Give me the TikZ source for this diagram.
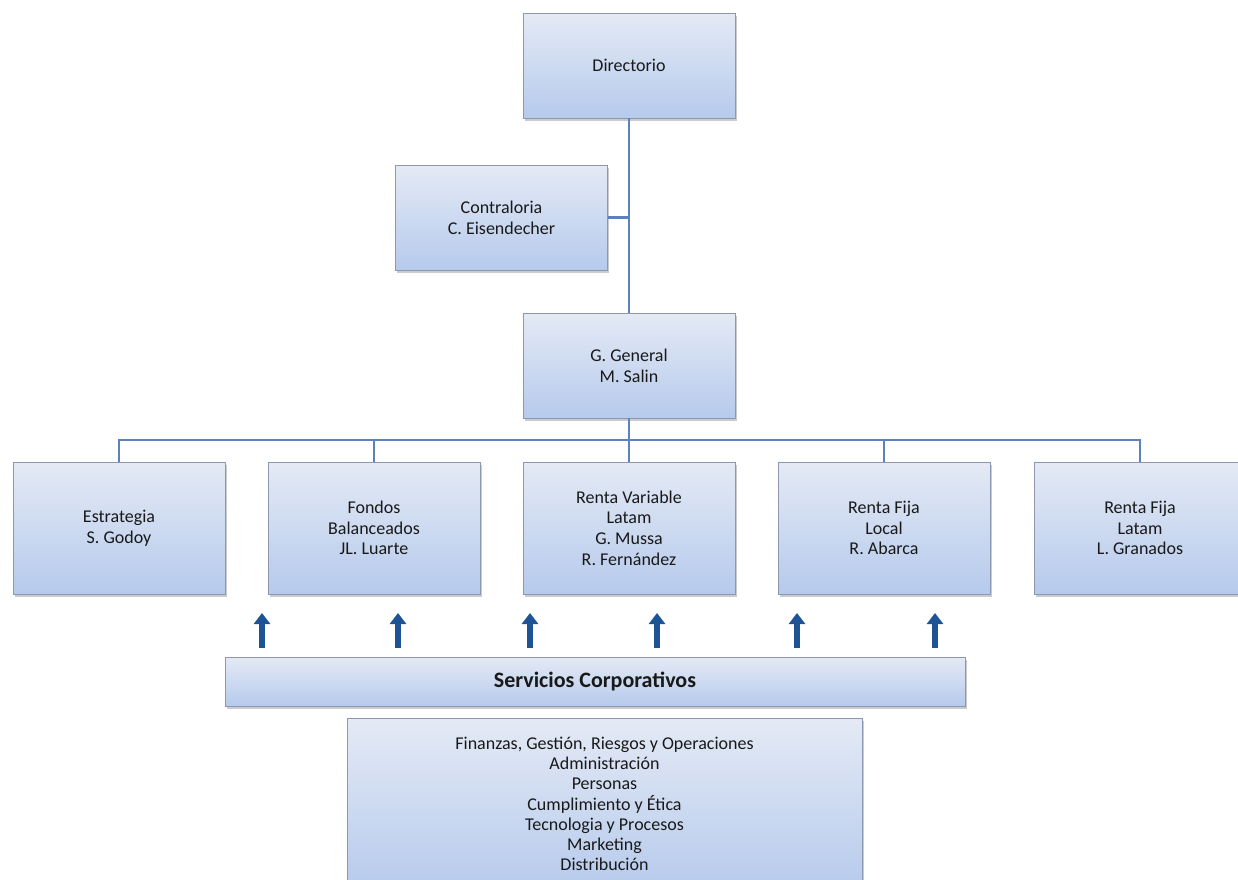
\documentclass[tikz,border=0pt]{standalone}
\usepackage{fontspec}
\setmainfont{Carlito}
\usetikzlibrary{arrows.meta,shadows}
\definecolor{boxtop}{RGB}{228,234,245}
\definecolor{boxbot}{RGB}{182,202,236}
\definecolor{boxborder}{RGB}{140,152,176}
\definecolor{conncol}{RGB}{92,130,190}
\definecolor{arrcol}{RGB}{30,84,150}
\tikzset{
  orgbox/.style={draw=boxborder, line width=0.8pt, top color=boxtop, bottom color=boxbot,
    drop shadow={shadow xshift=1.5pt, shadow yshift=-2.5pt, fill=black!45, opacity=0.45},
    minimum width=212pt, minimum height=105pt, align=center, inner sep=0pt,
    font=\fontsize{18}{20.7}\selectfont, text=black!90},
  rowbox/.style={orgbox, minimum height=132pt},
  conn/.style={draw=conncol, line width=2.8pt},
  uparr/.style={draw=arrcol, line width=5.5pt, -{Triangle[width=16pt,length=11pt]}},
}
\begin{document}
\begin{tikzpicture}[x=1pt,y=-1pt]
\useasboundingbox (0,0) rectangle (1238,879);
\fill[white] (0,0) rectangle (1238,879);
% top
\node[orgbox] (dir) at (629,65.5) {Directorio};
\node[orgbox] (contr) at (501.5,217.5) {Contraloria\\C. Eisendecher};
\node[orgbox] (gg) at (629,365.5) {G. General\\M. Salin};
% row
\node[rowbox] (e1) at (119,528) {Estrategia\\S. Godoy};
\node[rowbox] (e2) at (374,528) {Fondos\\Balanceados\\JL. Luarte};
\node[rowbox] (e3) at (629,528) {Renta Variable\\Latam\\G. Mussa\\R. Fernández};
\node[rowbox] (e4) at (884,528) {Renta Fija\\Local\\R. Abarca};
\node[rowbox] (e5) at (1140,528) {Renta Fija\\Latam\\L. Granados};
% services
\node[orgbox, minimum width=740pt, minimum height=49pt, font=\fontsize{22}{24}\selectfont\bfseries] (serv) at (595,681.5) {Servicios Corporativos};
\node[orgbox, minimum width=515pt, minimum height=172pt, font=\fontsize{18}{20.2}\selectfont] (list) at (604.5,804)
  {Finanzas, Gestión, Riesgos y Operaciones\\Administración\\Personas\\Cumplimiento y Ética\\Tecnologia y Procesos\\Marketing\\Distribución};
% connectors
\coordinate (bus) at (629,440);
\draw[conn] (dir.south) -- (gg.north);
\draw[conn] (contr.east) -- (contr.east -| dir.south);
\draw[conn] (gg.south) -- (bus);
\draw[conn] (e1.north) |- (bus) -| (e5.north);
\draw[conn] (e2.north) -- (e2.north |- bus);
\draw[conn] (e3.north) -- (e3.north |- bus);
\draw[conn] (e4.north) -- (e4.north |- bus);
% arrows
\foreach \i/\x in {1/262,2/398,3/530,4/657,5/797,6/935}{
  \coordinate (as\i) at (\x,648);
  \coordinate (ae\i) at (\x,613);
  \draw[uparr] (as\i) -- (ae\i);
}
\end{tikzpicture}
\end{document}
